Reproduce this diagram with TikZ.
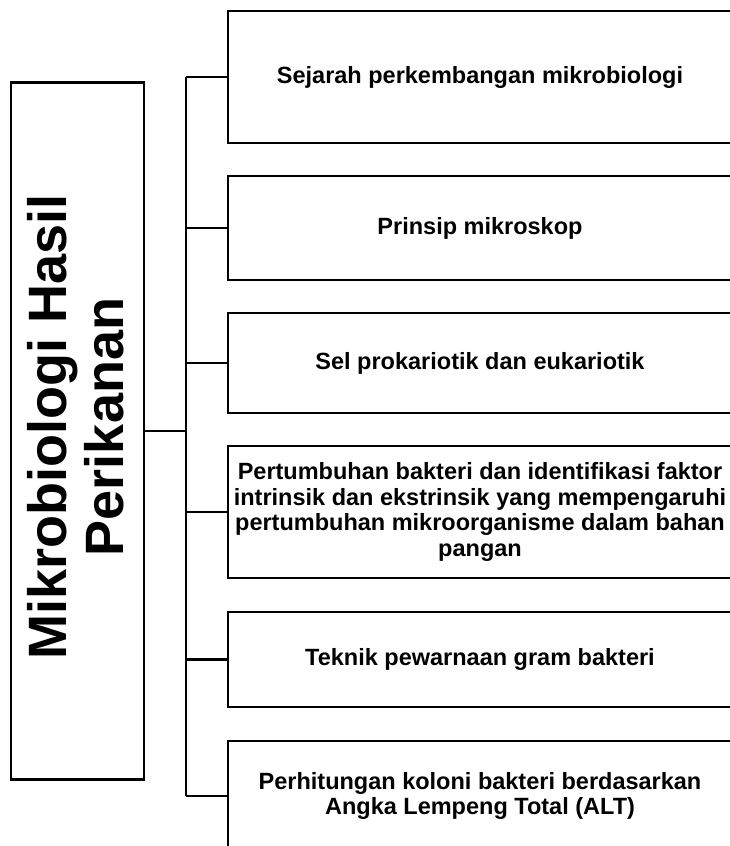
\documentclass[tikz,border=0pt]{standalone}
\usepackage{fontspec}
\setmainfont{Liberation Sans}
\begin{document}
\begin{tikzpicture}[x=1pt,y=-1pt,
  frame/.style={draw=black, line width=2.4pt, inner sep=0pt},
  branch/.style={frame, minimum width=504pt, align=center,
    font=\fontsize{23.5}{25.8}\selectfont\bfseries},
  link/.style={draw=black, line width=2.4pt}]
\useasboundingbox (0,0) rectangle (730,846);
\clip (0,0) rectangle (730,846);
\fill[white] (0,0) rectangle (730,846);
% main box
\node[frame, minimum width=133pt, minimum height=697pt] (main) at (77.5,431) {};
\node[rotate=90, align=center, inner sep=0pt,
  font=\fontsize{54}{57}\selectfont\bfseries] (title) at (76,427)
  {Mikrobiologi Hasil\\Perikanan};
% branch boxes
\node[branch, minimum height=132pt] (b1) at (480,77) {Sejarah perkembangan mikrobiologi};
\node[branch, minimum height=104pt] (b2) at (480,228) {Prinsip mikroskop};
\node[branch, minimum height=100pt] (b3) at (480,363) {Sel prokariotik dan eukariotik};
\node[branch, minimum height=132pt] (b4) at (480,512) {Pertumbuhan bakteri dan identifikasi faktor\\intrinsik dan ekstrinsik yang mempengaruhi\\pertumbuhan mikroorganisme dalam bahan\\pangan};
\node[branch, minimum height=95pt] (b5) at (480,659.5) {Teknik pewarnaan gram bakteri};
\node[branch, minimum height=110pt] (b6) at (480,796) {Perhitungan koloni bakteri berdasarkan\\Angka Lempeng Total (ALT)};
% connectors
\coordinate (spine) at (186,0);
\draw[link] (b1.west -| spine) -- (b6.west -| spine);
\draw[link] (main.east) -- (main.east -| spine);
\foreach \b in {b1,b2,b3,b4,b5,b6}
  \draw[link] (\b.west) -- (\b.west -| spine);
\end{tikzpicture}
\end{document}
